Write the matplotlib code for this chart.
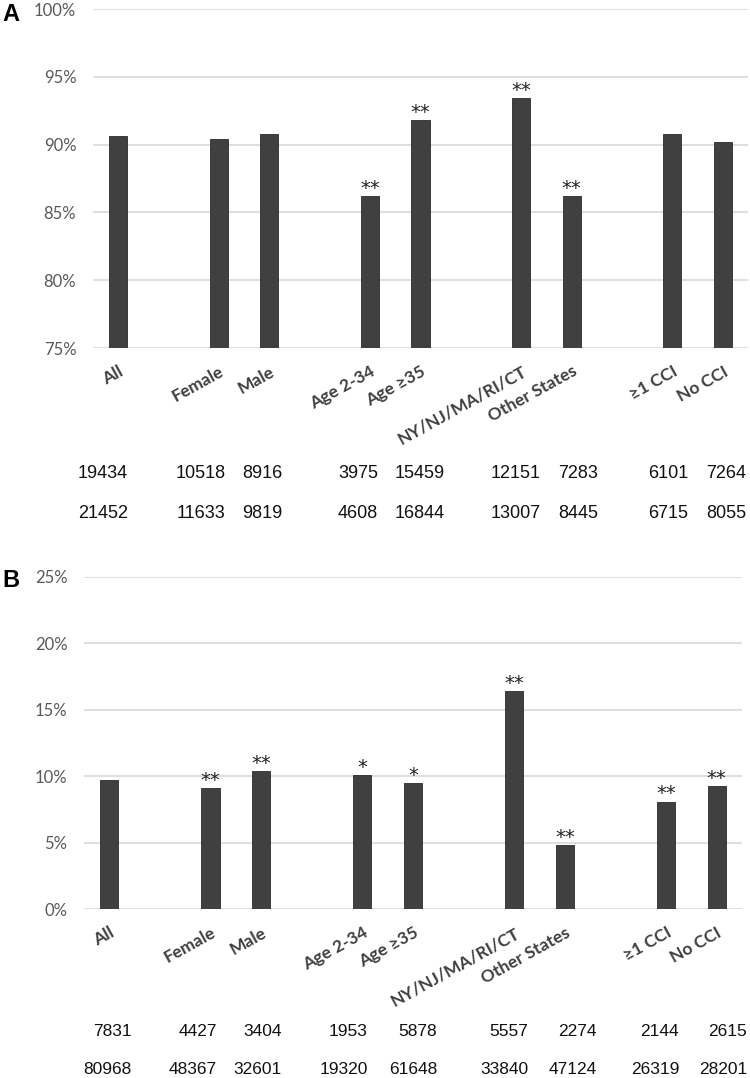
import matplotlib.pyplot as plt
from matplotlib.ticker import FuncFormatter

groups = [["All"], ["Female", "Male"], ["Age 2-34", "Age \u226535"],
          ["NY/NJ/MA/RI/CT", "Other States"], ["\u22651 CCI", "No CCI"]]
categories = [c for g in groups for c in g]

a_values = [90.6, 90.4, 90.8, 86.2, 91.8, 93.4, 86.2, 90.8, 90.2]
a_stars = ["", "", "", "**", "**", "**", "**", "", ""]
a_counts_top = [19434, 10518, 8916, 3975, 15459, 12151, 7283, 6101, 7264]
a_counts_bottom = [21452, 11633, 9819, 4608, 16844, 13007, 8445, 6715, 8055]

b_values = [9.7, 9.1, 10.4, 10.1, 9.5, 16.4, 4.8, 8.1, 9.25]
b_stars = ["", "**", "**", "*", "*", "**", "**", "**", "**"]
b_counts_top = [7831, 4427, 3404, 1953, 5878, 5557, 2274, 2144, 2615]
b_counts_bottom = [80968, 48367, 32601, 19320, 61648, 33840, 47124, 26319, 28201]

# layout of the count table under each panel (pixel x, y)
a_count_x = [103, 201, 262, 358, 420, 516, 578, 668, 726]
a_count_y = [474, 513]
b_count_x = [132, 217, 282, 368, 437, 528, 597, 679, 747]
b_count_y = [1032, 1070]

W, H = 750, 1078
fig = plt.figure(figsize=(W / 100, H / 100), dpi=100)

# bar slots with an empty slot between groups
pos = []
i = 0
for g in groups:
    for c in g:
        pos.append(i)
        i += 1
    i += 1

BAR = "#404040"
GRID = "#d9d9d9"
TICK = "#595959"
LAB = "#3f3f3f"
label_font = ["Lato", "DejaVu Sans"]


def panel(rect, values, stars, ylo, yhi, letter, letter_y):
    ax = fig.add_axes(rect)
    ax.bar(pos, values, width=0.36, color=BAR, edgecolor="#2a2a2a", linewidth=0.6,
           bottom=0, zorder=3)
    ax.set_xlim(-0.5, 12.5)
    ax.set_ylim(ylo, yhi)
    ax.set_yticks(range(ylo, yhi + 1, 5))
    ax.yaxis.set_major_formatter(FuncFormatter(lambda v, p: f"{v:.0f}%"))
    ax.grid(axis="y", color=GRID, linewidth=1.2, zorder=0)
    ax.set_axisbelow(True)
    for s in ax.spines.values():
        s.set_visible(False)
    ax.tick_params(axis="y", length=0, pad=12, labelsize=12, labelcolor=TICK)
    for t in ax.get_yticklabels():
        t.set_family(label_font)
    ax.set_xticks(pos)
    ax.set_xticklabels(categories, rotation=29, ha="right", rotation_mode="anchor",
                       fontweight="bold", fontsize=12.5, color=LAB, family=label_font)
    ax.tick_params(axis="x", length=0, pad=11)
    for x, v, s in zip(pos, values, stars):
        if s:
            ax.annotate(s, (x, v), xytext=(0, 1.5), textcoords="offset points",
                        ha="center", va="baseline", fontsize=14, color="#222222",
                        family="DejaVu Sans")
    fig.text(2 / W, 1 - letter_y / H, letter, fontsize=17, fontweight="bold",
             family="Liberation Sans", va="top", ha="left")
    return ax


panel([93 / W, 1 - 348 / H, 655 / W, 339 / H], a_values, a_stars, 75, 100, "A", 3)
panel([84 / W, 1 - 909.3 / H, 658 / W, 332.6 / H], b_values, b_stars, 0, 25, "B", 569)

for row, y in zip([a_counts_top, a_counts_bottom], a_count_y):
    for x, n in zip(a_count_x, row):
        fig.text(x / W, 1 - y / H, str(n), ha="center", va="center", fontsize=13,
                 family="Liberation Sans", color="#111111")

for row, y in zip([b_counts_top, b_counts_bottom], b_count_y):
    for x, n in zip(b_count_x, row):
        fig.text(x / W, 1 - y / H, str(n), ha="right", va="center", fontsize=12.5,
                 family="Liberation Sans", color="#111111")

fig.savefig("out.png", dpi=100)
